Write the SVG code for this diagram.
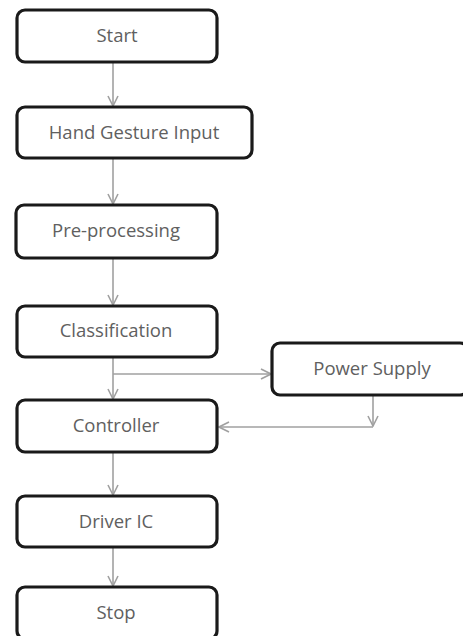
<svg xmlns="http://www.w3.org/2000/svg" width="463" height="636" viewBox="0 0 463 636">
<style>
.box{fill:#fff;stroke:#1a1a1a;stroke-width:3.2}
.lbl{font-family:"Open Sans","Noto Sans",sans-serif;font-size:18.5px;fill:#606060;text-anchor:middle}
.con{fill:none;stroke:#a0a0a0;stroke-width:1.6}
</style>
<defs>
<marker id="ah" viewBox="0 0 12 12" refX="11" refY="6" markerWidth="12" markerHeight="12" markerUnits="userSpaceOnUse" orient="auto">
<path d="M1,1 L11,6 L1,11" fill="none" stroke="#a0a0a0" stroke-width="1.6"/>
</marker>
</defs>
<rect width="463" height="636" fill="#fff"/>
<g id="connectors">
<line class="con" x1="113" y1="63" x2="113" y2="106" marker-end="url(#ah)"/>
<line class="con" x1="113" y1="159" x2="113" y2="204" marker-end="url(#ah)"/>
<line class="con" x1="113" y1="259" x2="113" y2="305" marker-end="url(#ah)"/>
<line class="con" x1="113" y1="358" x2="113" y2="399" marker-end="url(#ah)"/>
<line class="con" x1="113" y1="374" x2="271" y2="374" marker-end="url(#ah)"/>
<line class="con" x1="373" y1="396" x2="373" y2="426" marker-end="url(#ah)"/>
<line class="con" x1="373" y1="427" x2="219" y2="427" marker-end="url(#ah)"/>
<line class="con" x1="113" y1="453" x2="113" y2="495" marker-end="url(#ah)"/>
<line class="con" x1="113" y1="548" x2="113" y2="586" marker-end="url(#ah)"/>
</g>
<g id="start"><rect class="box" x="17" y="10" width="200" height="52" rx="8"/><text class="lbl" x="117" y="42">Start</text></g>
<g id="hand-gesture-input"><rect class="box" x="17" y="107" width="235" height="51" rx="8"/><text class="lbl" x="134" y="139">Hand Gesture Input</text></g>
<g id="pre-processing"><rect class="box" x="16" y="205" width="201" height="53" rx="8"/><text class="lbl" x="116" y="237">Pre-processing</text></g>
<g id="classification"><rect class="box" x="17" y="306" width="200" height="51" rx="8"/><text class="lbl" x="116" y="337">Classification</text></g>
<g id="power-supply"><rect class="box" x="272" y="343" width="196" height="52" rx="8"/><text class="lbl" x="372" y="375">Power Supply</text></g>
<g id="controller"><rect class="box" x="17" y="400" width="200" height="52" rx="8"/><text class="lbl" x="116" y="432">Controller</text></g>
<g id="driver-ic"><rect class="box" x="17" y="496" width="200" height="51" rx="8"/><text class="lbl" x="116" y="528">Driver IC</text></g>
<g id="stop"><rect class="box" x="17" y="587" width="200" height="52" rx="8"/><text class="lbl" x="116" y="619">Stop</text></g>
</svg>
